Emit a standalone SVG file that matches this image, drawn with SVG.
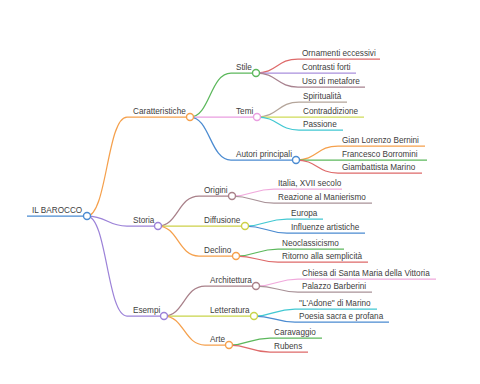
<svg xmlns="http://www.w3.org/2000/svg" width="480" height="384" viewBox="0 0 480 384">
<style>
text{font-family:"Liberation Sans",Arial,sans-serif;font-size:8.2px;fill:#404040}
.l{fill:none;stroke-width:1.25}
circle{fill:#fff;stroke-width:1.4}
.blue{stroke:#4b8bd1}.orange{stroke:#f5a04c}.purple{stroke:#9c82d8}.green{stroke:#5cb85c}.pink{stroke:#ea9ee0}
.red{stroke:#de6a6a}.lav{stroke:#a98fdd}.mauve{stroke:#a8828f}.grayb{stroke:#b4a59a}.lime{stroke:#cfdb58}.cyan{stroke:#42c8d2}
.brown{stroke:#a9818a}.yellow{stroke:#cdd048}.ppink{stroke:#f0a9dc}.gray{stroke:#a99298}.yl{stroke:#c8d44a}
</style>
<rect width="480" height="384" fill="#fff"/>
<g id="connectors">
<path class="l blue" d="M27,216H87"/>
<path class="l orange" d="M87,216C107,216 107,117 127,117H190"/>
<path class="l purple" d="M87,216C107,216 107,226 127,226H158"/>
<path class="l purple" d="M87,216C107,216 107,316 127,316H164"/>
<path class="l green" d="M190,117C210,117 210,73 231,73H256"/>
<path class="l pink" d="M190,117H257"/>
<path class="l blue" d="M190,117C210,117 210,160 231,160H296"/>
<path class="l red" d="M256,73C277,73 277,59 298,59H380"/>
<path class="l lav" d="M256,73H356"/>
<path class="l mauve" d="M256,73C277,73 277,87 298,87H365"/>
<path class="l grayb" d="M257,117C278,117 278,102 299,102H347"/>
<path class="l lime" d="M257,117H364"/>
<path class="l cyan" d="M257,117C278,117 278,130 299,130H343"/>
<path class="l orange" d="M296,160C317,160 317,146 338,146H425"/>
<path class="l green" d="M296,160H427"/>
<path class="l red" d="M296,160C317,160 317,173 338,173H422"/>
<path class="l brown" d="M158,226C178,226 178,196 199,196H232"/>
<path class="l yellow" d="M158,226H245"/>
<path class="l orange" d="M158,226C178,226 178,256 199,256H236"/>
<path class="l ppink" d="M232,196C253,196 253,189 274,189H342"/>
<path class="l gray" d="M232,196C253,196 253,203 274,203H372"/>
<path class="l cyan" d="M245,226C266,226 266,219 287,219H323"/>
<path class="l blue" d="M245,226C266,226 266,233 287,233H365"/>
<path class="l green" d="M236,256C257,256 257,249 278,249H344"/>
<path class="l red" d="M236,256C257,256 257,262 278,262H368"/>
<path class="l brown" d="M164,316C184,316 184,286 205,286H256"/>
<path class="l yl" d="M164,316H254"/>
<path class="l orange" d="M164,316C184,316 184,345 205,345H229"/>
<path class="l ppink" d="M256,286C277,286 277,279 298,279H436"/>
<path class="l gray" d="M256,286C277,286 277,292 298,292H372"/>
<path class="l cyan" d="M254,316C274,316 274,309 295,309H377"/>
<path class="l blue" d="M254,316C274,316 274,322 295,322H389"/>
<path class="l green" d="M229,345C249,345 249,338 270,338H322"/>
<path class="l red" d="M229,345C249,345 249,352 270,352H308"/>
</g>
<g id="n-root"><circle class="blue" cx="87" cy="216" r="3.5"/><text x="32" y="213">IL BAROCCO</text></g>
<g id="n-caratteristiche"><circle class="orange" cx="190" cy="117" r="3.5"/><text x="133" y="114">Caratteristiche</text></g>
<g id="n-storia"><circle class="purple" cx="158" cy="226" r="3.5"/><text x="133" y="223">Storia</text></g>
<g id="n-esempi"><circle class="purple" cx="164" cy="316" r="3.5"/><text x="133" y="313">Esempi</text></g>
<g id="n-stile"><circle class="green" cx="256" cy="73" r="3.5"/><text x="236" y="70">Stile</text></g>
<g id="n-temi"><circle class="pink" cx="257" cy="117" r="3.5"/><text x="236" y="114">Temi</text></g>
<g id="n-autori"><circle class="blue" cx="296" cy="160" r="3.5"/><text x="236" y="157">Autori principali</text></g>
<g id="n-ornamenti"><text x="302" y="56">Ornamenti eccessivi</text></g>
<g id="n-contrasti"><text x="302" y="70">Contrasti forti</text></g>
<g id="n-metafore"><text x="302" y="84">Uso di metafore</text></g>
<g id="n-spiritualita"><text x="303" y="99">Spiritualità</text></g>
<g id="n-contraddizione"><text x="303" y="114">Contraddizione</text></g>
<g id="n-passione"><text x="303" y="127">Passione</text></g>
<g id="n-bernini"><text x="342" y="143">Gian Lorenzo Bernini</text></g>
<g id="n-borromini"><text x="342" y="157">Francesco Borromini</text></g>
<g id="n-marino"><text x="342" y="170">Giambattista Marino</text></g>
<g id="n-origini"><circle class="brown" cx="232" cy="196" r="3.5"/><text x="204" y="193">Origini</text></g>
<g id="n-diffusione"><circle class="yellow" cx="245" cy="226" r="3.5"/><text x="204" y="223">Diffusione</text></g>
<g id="n-declino"><circle class="orange" cx="236" cy="256" r="3.5"/><text x="204" y="253">Declino</text></g>
<g id="n-italia"><text x="278" y="186">Italia, XVII secolo</text></g>
<g id="n-reazione"><text x="278" y="200">Reazione al Manierismo</text></g>
<g id="n-europa"><text x="291" y="216">Europa</text></g>
<g id="n-influenze"><text x="291" y="230">Influenze artistiche</text></g>
<g id="n-neoclassicismo"><text x="282" y="246">Neoclassicismo</text></g>
<g id="n-ritorno"><text x="282" y="259">Ritorno alla semplicità</text></g>
<g id="n-architettura"><circle class="brown" cx="256" cy="286" r="3.5"/><text x="210" y="283">Architettura</text></g>
<g id="n-letteratura"><circle class="yl" cx="254" cy="316" r="3.5"/><text x="210" y="313">Letteratura</text></g>
<g id="n-arte"><circle class="orange" cx="229" cy="345" r="3.5"/><text x="210" y="342">Arte</text></g>
<g id="n-chiesa"><text x="302" y="276">Chiesa di Santa Maria della Vittoria</text></g>
<g id="n-palazzo"><text x="302" y="289">Palazzo Barberini</text></g>
<g id="n-adone"><text x="299" y="306">"L'Adone" di Marino</text></g>
<g id="n-poesia"><text x="299" y="319">Poesia sacra e profana</text></g>
<g id="n-caravaggio"><text x="274" y="335">Caravaggio</text></g>
<g id="n-rubens"><text x="274" y="349">Rubens</text></g>
</svg>
